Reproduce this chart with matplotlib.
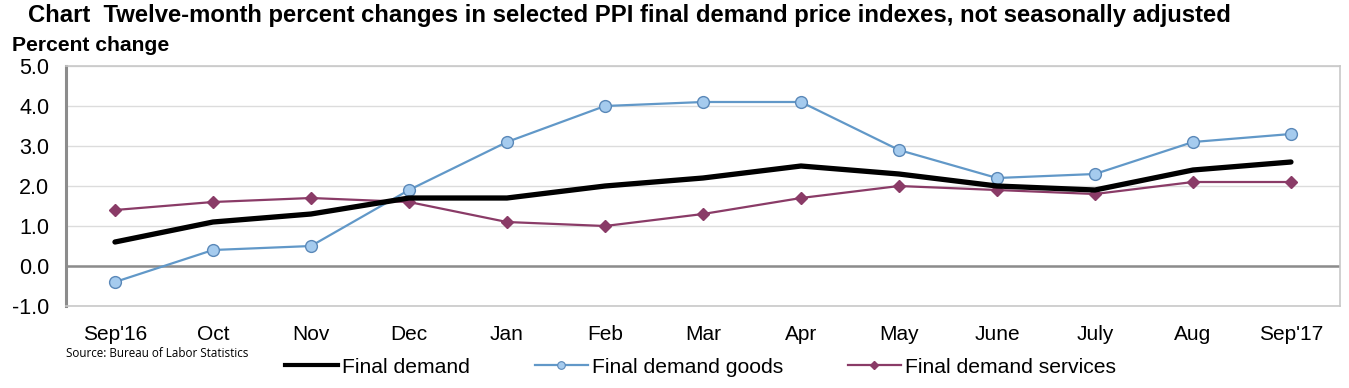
import numpy as np
import matplotlib.pyplot as plt
from matplotlib.lines import Line2D

# Data
months = ["Sep'16", "Oct", "Nov", "Dec", "Jan", "Feb", "Mar", "Apr",
          "May", "June", "July", "Aug", "Sep'17"]
final_demand = [0.6, 1.1, 1.3, 1.7, 1.7, 2.0, 2.2, 2.5, 2.3, 2.0, 1.9, 2.4, 2.6]
fd_goods = [-0.4, 0.4, 0.5, 1.9, 3.1, 4.0, 4.1, 4.1, 2.9, 2.2, 2.3, 3.1, 3.3]
fd_services = [1.4, 1.6, 1.7, 1.6, 1.1, 1.0, 1.3, 1.7, 2.0, 1.9, 1.8, 2.1, 2.1]
yticks = [-1.0, 0.0, 1.0, 2.0, 3.0, 4.0, 5.0]

plt.rcParams['font.family'] = ['Liberation Sans', 'DejaVu Sans']

fig = plt.figure(figsize=(13.49, 3.88), dpi=100)
ax = fig.add_axes([0.0489, 0.2113, 0.9444, 0.6186])

blue, blue_face, blue_edge = '#6198C8', '#A5CBEE', '#5A88B8'
plum = '#8A3B67'

x = np.arange(len(months))
ax.plot(x, final_demand, color='black', lw=3.8, solid_capstyle='round', zorder=4)
ax.plot(x, fd_goods, color=blue, lw=1.6, marker='o', ms=8.5,
        mfc=blue_face, mec=blue_edge, mew=1.0, zorder=3)
ax.plot(x, fd_services, color=plum, lw=1.6, marker='D', ms=6.5,
        mfc=plum, mec=plum, zorder=3)

ax.set_xlim(-0.5, 12.5)
ax.set_ylim(-1, 5)
ax.set_yticks(yticks)
ax.set_yticklabels([f'{v:.1f}' for v in yticks], fontsize=15.5)
ax.set_xticks(x)
ax.set_xticklabels(months, fontsize=15)
ax.tick_params(axis='x', length=0, pad=14)
ax.tick_params(axis='y', length=0, pad=12)

ax.grid(axis='y', color='#DCDCDC', lw=1.0)
ax.set_axisbelow(True)
ax.axhline(0, color='#8C8C8C', lw=1.8, zorder=2)
for s in ['top', 'right', 'bottom']:
    ax.spines[s].set_color('#C8C8C8')
    ax.spines[s].set_linewidth(1.2)
ax.spines['left'].set_color('#8C8C8C')
ax.spines['left'].set_linewidth(2.2)

fig.text(0.021, 0.96, 'Chart  Twelve-month percent changes in selected PPI final demand price indexes, not seasonally adjusted',
         fontsize=17.2, fontweight='bold', va='center')
fig.text(0.009, 0.882, 'Percent change', fontsize=15.2, fontweight='bold', va='center')
fig.text(0.049, 0.09, 'Source: Bureau of Labor Statistics', fontsize=8.4,
         family=['Open Sans', 'DejaVu Sans'], va='center')

# legend handles use smaller markers than the plotted series
h1 = Line2D([], [], color='black', lw=3.0)
h2 = Line2D([], [], color=blue, lw=1.6, marker='o', ms=5.5,
            mfc=blue_face, mec=blue_edge, mew=0.8)
h3 = Line2D([], [], color=plum, lw=1.6, marker='D', ms=4.5, mfc=plum, mec=plum)

# legend entries placed one by one to match the uneven spacing
legend_items = [(h1, 'Final demand', 285),
                (h2, 'Final demand goods', 535),
                (h3, 'Final demand services', 848)]
for h, lab, px in legend_items:
    fig.legend([h], [lab], loc='center left', bbox_to_anchor=(px / 1349, 0.054),
               frameon=False, fontsize=15.2, handlelength=2.5, handletextpad=0.2,
               borderpad=0, borderaxespad=0)

fig.savefig('out.png', dpi=100)
